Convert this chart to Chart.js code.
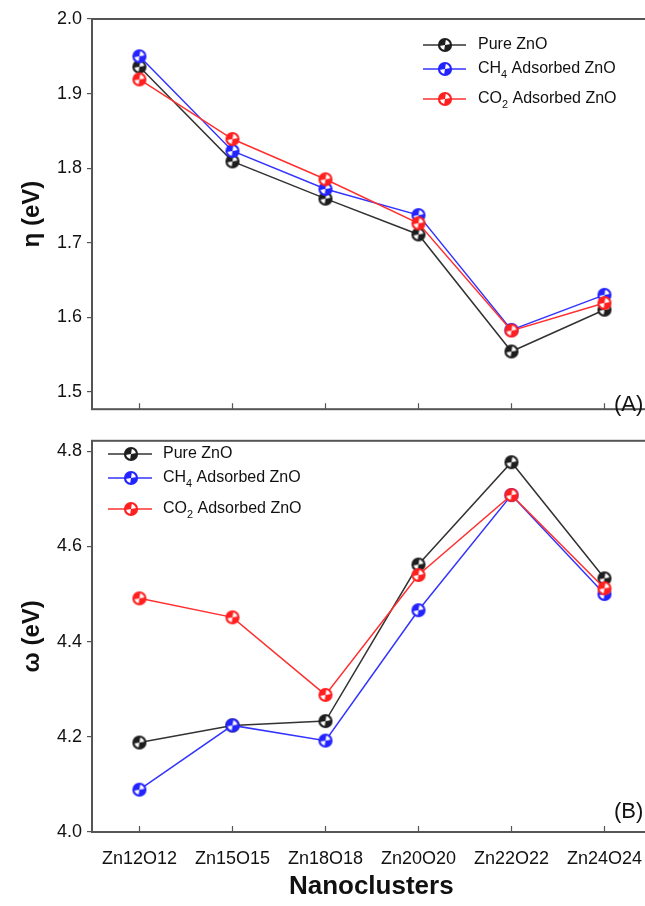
<!DOCTYPE html>
<html>
<head>
<meta charset="utf-8">
<title>Chemical hardness and electrophilicity of ZnO nanoclusters</title>
<script src="https://cdn.jsdelivr.net/npm/chart.js@4/dist/chart.umd.min.js"></script>
<style>
  html, body { margin: 0; padding: 0; background: #fff; overflow: hidden; width: 645px; height: 906px; }
  .panel { position: absolute; left: 0; }
  #panelA { top: 0; }
  #panelB { top: 425px; }
</style>
</head>
<body>
<div class="panel" id="panelA"><canvas id="chartA" width="660" height="425"></canvas></div>
<div class="panel" id="panelB"><canvas id="chartB" width="660" height="481"></canvas></div>
<script>
// Nanocluster sizes along the x axis
const categories = ['Zn12O12', 'Zn15O15', 'Zn18O18', 'Zn20O20', 'Zn22O22', 'Zn24O24'];

// Series names ("_n" marks a subscript digit)
const seriesNames = ['Pure ZnO', 'CH_4 Adsorbed ZnO', 'CO_2 Adsorbed ZnO'];

// (A) chemical hardness eta, eV
const etaPure = [1.936, 1.809, 1.759, 1.711, 1.554, 1.610];
const etaCH4  = [1.950, 1.823, 1.772, 1.737, 1.583, 1.630];
const etaCO2  = [1.919, 1.839, 1.785, 1.726, 1.582, 1.619];

// (B) electrophilicity index omega, eV
const omegaPure = [4.188, 4.224, 4.233, 4.562, 4.777, 4.533];
const omegaCH4  = [4.089, 4.224, 4.192, 4.466, 4.708, 4.500];
const omegaCO2  = [4.491, 4.451, 4.288, 4.540, 4.708, 4.512];

// Y tick labels
const etaTicks = [1.5, 1.6, 1.7, 1.8, 1.9, 2.0];
const omegaTicks = [4.0, 4.2, 4.4, 4.6, 4.8];

const FONT = '"Liberation Sans", Arial, Helvetica, sans-serif';
const AXIS = '#555';
const colors = ['#1e1e1e', '#2424ff', '#ff2020'];
const lineColors = ['#333333', '#3434ff', '#ff3030'];

// Quartered circle marker: two opposite quadrants filled
function makeMarker(color) {
  const c = document.createElement('canvas');
  c.width = 16; c.height = 16;
  const g = c.getContext('2d');
  const cx = 8, cy = 8, r = 6;
  g.fillStyle = '#fff';
  g.beginPath(); g.arc(cx, cy, r, 0, Math.PI * 2); g.fill();
  g.fillStyle = color;
  g.beginPath(); g.moveTo(cx, cy); g.arc(cx, cy, r, Math.PI * 0.95, Math.PI * 1.55); g.closePath(); g.fill();
  g.beginPath(); g.moveTo(cx, cy); g.arc(cx, cy, r, -Math.PI * 0.05, Math.PI * 0.55); g.closePath(); g.fill();
  g.strokeStyle = color; g.lineWidth = 2.2;
  g.beginPath(); g.arc(cx, cy, r, 0, Math.PI * 2); g.stroke();
  return c;
}
const markers = colors.map(makeMarker);

function toPoints(arr) { return arr.map((v, i) => ({ x: i, y: v })); }

function makeDatasets(series) {
  return series.map((arr, k) => ({
    label: seriesNames[k],
    data: toPoints(arr),
    borderColor: lineColors[k],
    backgroundColor: colors[k],
    borderWidth: 1.5,
    pointStyle: markers[k],
    pointRadius: 8,
    pointHoverRadius: 8,
    tension: 0,
    order: 3 - k
  }));
}

// Draw text where "_d" renders d as a subscript
function drawRich(ctx, text, x, y, size) {
  const parts = text.split(/(_\d)/).filter(s => s.length);
  let cx = x;
  parts.forEach(p => {
    if (p[0] === '_') {
      ctx.font = (size * 0.68).toFixed(1) + 'px ' + FONT;
      ctx.fillText(p.slice(1), cx, y + size * 0.38);
      cx += ctx.measureText(p.slice(1)).width;
    } else {
      ctx.font = size + 'px ' + FONT;
      ctx.fillText(p, cx, y);
      cx += ctx.measureText(p).width;
    }
  });
}

// Frame, inward x ticks, panel tag and legend
const framePlugin = {
  id: 'frame',
  afterDraw(chart, args, o) {
    const { ctx, chartArea: a } = chart;
    const x = chart.scales.x;
    ctx.save();
    ctx.strokeStyle = AXIS;
    ctx.lineWidth = 2;
    ctx.strokeRect(a.left, a.top, a.right - a.left, a.bottom - a.top);
    ctx.lineWidth = 1.2;
    x.ticks.forEach(t => {
      const px = Math.round(x.getPixelForValue(t.value)) + 0.5;
      ctx.beginPath(); ctx.moveTo(px, a.bottom); ctx.lineTo(px, a.bottom - 6); ctx.stroke();
    });
    ctx.fillStyle = '#111';
    ctx.textBaseline = 'middle';
    ctx.textAlign = 'left';
    ctx.font = '22px ' + FONT;
    ctx.fillText(o.tag, o.tagX, o.tagY);
    // legend rows
    o.rows.forEach((ry, k) => {
      ctx.strokeStyle = lineColors[k];
      ctx.lineWidth = 1.5;
      ctx.beginPath(); ctx.moveTo(o.lx0, ry); ctx.lineTo(o.lx1, ry); ctx.stroke();
      ctx.drawImage(markers[k], o.mx - 8, ry - 8);
      ctx.fillStyle = '#111';
      drawRich(ctx, seriesNames[k], o.tx, ry, 16);
    });
    ctx.restore();
  }
};

function xScale(showLabels) {
  const s = {
    type: 'linear',
    min: -0.51,
    max: 5.495,
    afterBuildTicks: sc => { sc.ticks = categories.map((c, i) => ({ value: i })); },
    grid: { display: false, drawTicks: false },
    border: { display: false },
    ticks: {
      display: showLabels,
      autoSkip: false,
      maxRotation: 0,
      padding: 16,
      color: '#111',
      font: { family: FONT, size: 18 },
      callback: v => categories[v]
    }
  };
  if (showLabels) {
    s.title = { display: true, text: 'Nanoclusters', color: '#111',
      font: { family: FONT, size: 26, weight: 'bold' }, padding: { top: 0, bottom: 4 } };
    s.afterFit = sc => { sc.height = 74; };
  } else {
    s.afterFit = sc => { sc.height = 3; };
  }
  return s;
}

function yScale(min, max, tickList, title) {
  return {
    type: 'linear',
    min: min,
    max: max,
    afterBuildTicks: sc => { sc.ticks = tickList.map(v => ({ value: v })); },
    afterFit: sc => { sc.width = 92; },
    border: { display: false },
    grid: { display: true, drawOnChartArea: false, drawTicks: true, tickLength: 5, color: AXIS, lineWidth: 1.2 },
    ticks: { padding: 5, color: '#111', font: { family: FONT, size: 18 }, callback: v => v.toFixed(1) },
    title: { display: true, text: title, color: '#111',
      font: { family: FONT, size: 24, weight: 'bold' }, padding: { top: 18, bottom: 0 } }
  };
}

function baseOptions(layoutPad, yOpts, showXLabels, frameOpts) {
  return {
    responsive: false,
    animation: false,
    devicePixelRatio: 1,
    layout: { padding: layoutPad },
    plugins: { legend: { display: false }, tooltip: { enabled: false }, frame: frameOpts },
    scales: { x: xScale(showXLabels), y: yOpts }
  };
}

new Chart(document.getElementById('chartA'), {
  type: 'line',
  data: { datasets: makeDatasets([etaPure, etaCH4, etaCO2]) },
  options: baseOptions({ top: 19, right: 6, left: 0, bottom: 0 },
    yScale(1.4766, 2.0, etaTicks, 'η (eV)'), false,
    { tag: '(A)', tagX: 614, tagY: 405, rows: [45, 69, 99], lx0: 423, lx1: 466, mx: 445, tx: 478 }),
  plugins: [framePlugin]
});

new Chart(document.getElementById('chartB'), {
  type: 'line',
  data: { datasets: makeDatasets([omegaPure, omegaCH4, omegaCO2]) },
  options: baseOptions({ top: 2, right: 6, left: 0, bottom: 0 },
    yScale(4.0, 4.822, omegaTicks, 'ω (eV)'), true,
    { tag: '(B)', tagX: 614, tagY: 387, rows: [29, 53, 84], lx0: 108, lx1: 152, mx: 131, tx: 163 }),
  plugins: [framePlugin]
});
</script>
</body>
</html>
